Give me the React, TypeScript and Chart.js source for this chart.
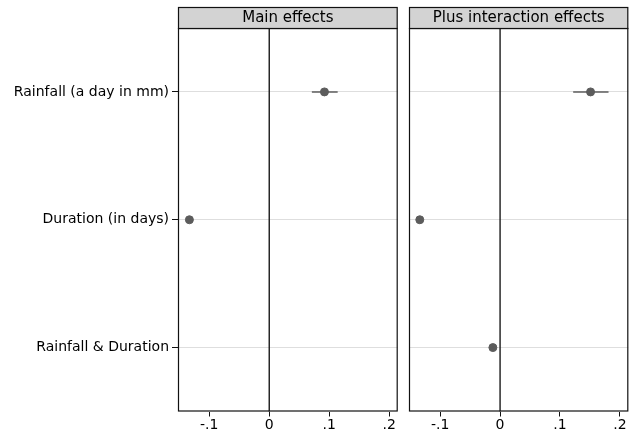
import React, { useEffect, useRef } from "react";
import { Chart, registerables } from "chart.js";
Chart.register(...registerables);

const categories = ["Rainfall (a day in mm)", "Duration (in days)", "Rainfall & Duration"];
const panelTitles = ["Main effects", "Plus interaction effects"];
const xTickValues = [-0.1, 0, 0.1, 0.2];
const xTickLabels = ["-.1", "0", ".1", ".2"];
const mainCoef = [0.092, -0.133, null];
const mainLo = [0.071, -0.134, null];
const mainHi = [0.114, -0.132, null];
const interCoef = [0.151, -0.134, -0.012];
const interLo = [0.122, -0.135, -0.013];
const interHi = [0.181, -0.133, -0.011];

const FONT = "'DejaVu Sans', sans-serif";
const MARK = "#5c5c5c";

function makeConfig(title: string, coef: (number | null)[], lo: (number | null)[], hi: (number | null)[], showY: boolean, padL: number, padR: number) {
  const datasets: any[] = [];
  categories.forEach((c, i) => {
    if (lo[i] == null || hi[i] == null) return;
    datasets.push({
      type: "line",
      data: [{ x: lo[i], y: c }, { x: hi[i], y: c }],
      borderColor: MARK,
      borderWidth: 1.5,
      pointRadius: 0,
      showLine: true,
    });
  });
  datasets.push({
    type: "scatter",
    data: categories.map((c, i) => (coef[i] == null ? null : { x: coef[i], y: c })).filter((d) => d),
    backgroundColor: MARK,
    borderColor: MARK,
    pointRadius: 4,
    pointHoverRadius: 4,
  });
  const plugin = {
    id: "facet",
    beforeDatasetsDraw(chart: any) {
      const { ctx, chartArea: a, scales } = chart;
      const x0 = scales.x.getPixelForValue(0);
      ctx.save();
      ctx.strokeStyle = "#1a1a1a";
      ctx.lineWidth = 1.4;
      ctx.beginPath();
      ctx.moveTo(x0, a.top);
      ctx.lineTo(x0, a.bottom);
      ctx.stroke();
      ctx.restore();
    },
    afterDraw(chart: any) {
      const { ctx, chartArea: a } = chart;
      ctx.save();
      ctx.strokeStyle = "#111";
      ctx.lineWidth = 1.2;
      ctx.strokeRect(a.left + 0.5, a.top + 0.5, a.right - a.left - 1, a.bottom - a.top - 1);
      const hTop = 7.5;
      ctx.fillStyle = "#d3d3d3";
      ctx.fillRect(a.left + 0.5, hTop, a.right - a.left - 1, a.top + 0.5 - hTop);
      ctx.strokeRect(a.left + 0.5, hTop, a.right - a.left - 1, a.top + 0.5 - hTop);
      ctx.fillStyle = "#000";
      ctx.font = "15px " + FONT;
      ctx.textAlign = "center";
      ctx.textBaseline = "middle";
      ctx.fillText(title, (a.left + a.right) / 2, (hTop + a.top) / 2 + 0.5);
      ctx.restore();
    },
  };
  return {
    type: "scatter",
    data: { labels: categories, datasets },
    options: {
      animation: false,
      responsive: false,
      maintainAspectRatio: false,
      events: [],
      layout: { padding: { top: 28, left: padL, right: padR, bottom: 0 } },
      plugins: { legend: { display: false }, tooltip: { enabled: false } },
      scales: {
        x: {
          type: "linear",
          min: -0.152,
          max: 0.214,
          afterBuildTicks: (s: any) => {
            s.ticks = xTickValues.map((v) => ({ value: v }));
          },
          afterFit: (s: any) => {
            s.height = 24.5;
          },
          ticks: {
            autoSkip: false,
            maxRotation: 0,
            padding: 0,
            color: "#000",
            font: { family: FONT, size: 14 },
            callback: (v: any) => {
              const i = xTickValues.findIndex((t) => Math.abs(t - v) < 1e-9);
              return i >= 0 ? xTickLabels[i] : "";
            },
          },
          grid: { drawOnChartArea: false, tickColor: "#111", tickLength: 5, drawTicks: true },
          border: { display: false },
        },
        y: {
          type: "category",
          labels: categories,
          offset: true,
          display: true,
          afterFit: (s: any) => {
            s.width = showY ? 178 - padL : 0;
          },
          ticks: {
            display: showY,
            color: "#000",
            padding: 3,
            font: { family: FONT, size: 14 },
          },
          grid: {
            offset: false,
            color: "#dedede",
            lineWidth: 1,
            tickColor: "#111",
            tickLength: showY ? 6 : 0,
            drawTicks: showY,
          },
          border: { display: false },
        },
      },
    },
    plugins: [plugin],
  };
}

export default function App() {
  const r1 = useRef<HTMLCanvasElement>(null);
  const r2 = useRef<HTMLCanvasElement>(null);
  useEffect(() => {
    document.body.style.margin = "0";
    const c1 = new Chart(r1.current!, makeConfig(panelTitles[0], mainCoef, mainLo, mainHi, true, 0, 12.3) as any);
    const c2 = new Chart(r2.current!, makeConfig(panelTitles[1], interCoef, interLo, interHi, false, 9, 5.7) as any);
    return () => {
      c1.destroy();
      c2.destroy();
    };
  }, []);
  return (
    <div style={{ position: "relative", width: 634, height: 436, background: "#fff" }}>
      <canvas ref={r1} width={410} height={436} style={{ position: "absolute", left: 0, top: 0, width: 410, height: 436 }} />
      <canvas ref={r2} width={234} height={436} style={{ position: "absolute", left: 400, top: 0, width: 234, height: 436 }} />
    </div>
  );
}
